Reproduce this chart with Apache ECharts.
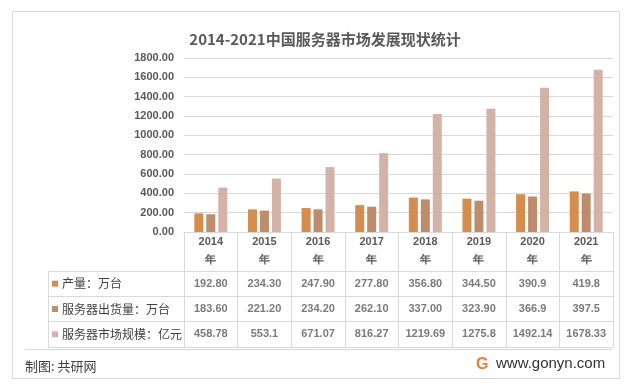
<!DOCTYPE html>
<html><head><meta charset="utf-8">
<script src="https://cdn.jsdelivr.net/npm/echarts@6/dist/echarts.min.js"></script>
<style>html,body{margin:0;padding:0;background:#fff}#c{width:628px;height:389px}</style>
</head><body><div id="c"></div>
<script>
const titleText = '2014-2021中国服务器市场发展现状统计';
const years = ['2014年','2015年','2016年','2017年','2018年','2019年','2020年','2021年'];
const rowNames = ['产量：万台','服务器出货量：万台','服务器市场规模：亿元'];
const production = ['192.80','234.30','247.90','277.80','356.80','344.50','390.9','419.8'];
const shipments = ['183.60','221.20','234.20','262.10','337.00','323.90','366.9','397.5'];
const marketSize = ['458.78','553.1','671.07','816.27','1219.69','1275.8','1492.14','1678.33'];
const yTicks = [0, 1800, 200];
const colors = ['#D48C4F','#BD8C6C','#D3B3A8'];

const seriesVals = [production, shipments, marketSize];
const numFont = '"Liberation Sans", Arial, sans-serif';
const cjkFont = '"Noto Sans CJK SC", sans-serif';
const txtColor = '#595959';
const lineColor = '#d9d9d9';

const chart = echarts.init(document.getElementById('c'));
const rich = {t: {fontFamily: cjkFont, fontSize: 12, color: '#404040', padding: [0,0,0,4]}};
colors.forEach((c, i) => { rich['m' + i] = {width: 6, height: 6, backgroundColor: c}; });

const tableData = [];
seriesVals.forEach((arr, r) => arr.forEach((v, i) => {
  tableData.push({value: [years[i], rowNames[r]], label: {formatter: v}});
}));

chart.setOption({
  animation: false,
  title: {text: titleText, left: 320, top: 27, textAlign: 'center',
    textStyle: {fontFamily: cjkFont, fontSize: 15, fontWeight: 'bold', color: txtColor}},
  grid: [
    {left: 184, right: 15, top: 58, bottom: 157},
    {left: 184, right: 15, top: 271, bottom: 42}
  ],
  xAxis: [
    {gridIndex: 0, type: 'category', data: years,
      axisLine: {show: true, lineStyle: {color: lineColor}},
      axisTick: {show: true, length: 115, lineStyle: {color: lineColor}},
      axisLabel: {margin: 1, lineHeight: 18, fontFamily: numFont, fontSize: 11, fontWeight: 'bold', color: txtColor,
        formatter: v => v.replace('年', '\n年')}},
    {gridIndex: 1, type: 'category', data: years, show: false}
  ],
  yAxis: [
    {gridIndex: 0, type: 'value', min: yTicks[0], max: yTicks[1], interval: yTicks[2],
      axisLine: {show: false}, axisTick: {show: false},
      splitLine: {lineStyle: {color: lineColor}},
      axisLabel: {margin: 10, fontFamily: numFont, fontSize: 11, fontWeight: 'bold', color: txtColor,
        formatter: v => v.toFixed(2)}},
    {gridIndex: 1, type: 'category', data: rowNames, inverse: true, position: 'left',
      axisLine: {show: true, lineStyle: {color: lineColor}},
      axisTick: {show: true, length: 136, lineStyle: {color: lineColor}},
      splitLine: {show: true, lineStyle: {color: lineColor}},
      axisLabel: {align: 'left', margin: 132, rich: rich,
        formatter: (v) => '{m' + rowNames.indexOf(v) + '|}{t|' + v + '}'}},
    {gridIndex: 1, type: 'category', data: rowNames, inverse: true, position: 'left', offset: 136,
      axisLine: {show: true, lineStyle: {color: lineColor}},
      axisTick: {show: false}, axisLabel: {show: false}, splitLine: {show: false}}
  ],
  series: [
    ...rowNames.map((n, i) => ({
      name: n, type: 'bar', xAxisIndex: 0, yAxisIndex: 0,
      data: seriesVals[i].map(Number), barWidth: 9, barGap: '33%',
      itemStyle: {color: colors[i]}
    })),
    {type: 'scatter', xAxisIndex: 1, yAxisIndex: 1, symbolSize: 0, data: tableData,
      label: {show: true, position: 'inside', fontFamily: numFont, fontSize: 11, fontWeight: 'bold', color: txtColor}}
  ],
  graphic: [
    {type: 'rect', shape: {x: 12.5, y: 11.5, width: 607, height: 367}, style: {fill: 'none', stroke: lineColor}, silent: true},
    {type: 'line', shape: {x1: 25, y1: 349.5, x2: 612, y2: 349.5}, style: {stroke: lineColor}, silent: true},
    {type: 'text', x: 25, y: 366, style: {text: '制图: 共研网', fontFamily: cjkFont, fontSize: 13, fill: '#404040', verticalAlign: 'middle'}},
    {type: 'text', x: 476, y: 365, style: {text: 'G', fontFamily: numFont, fontSize: 16, fontWeight: 'bold', fill: '#E8803A', verticalAlign: 'middle'}},
    {type: 'text', x: 496, y: 364, style: {text: 'www.gonyn.com', fontFamily: numFont, fontSize: 15, fill: '#333', verticalAlign: 'middle'}}
  ]
});
</script></body></html>
